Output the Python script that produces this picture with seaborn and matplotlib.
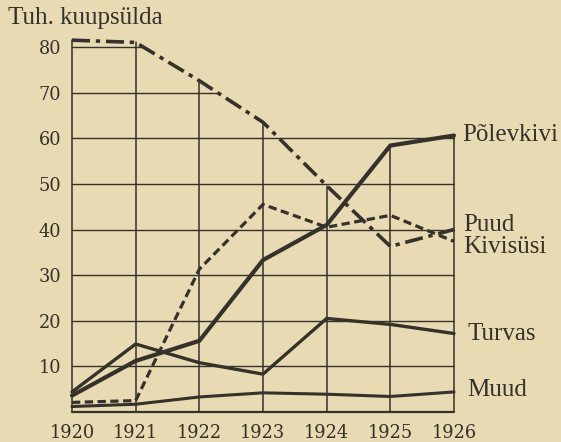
import numpy as np
import pandas as pd
import matplotlib
matplotlib.use("Agg")
import matplotlib.pyplot as plt
import seaborn as sns

# Fuel consumption, thousand cubic fathoms
years = [1920, 1921, 1922, 1923, 1924, 1925, 1926]
kivisusi = [81.5, 81.0, 72.6, 63.5, 49.6, 36.3, 40.0]
puud = [2.1, 2.5, 31.3, 45.5, 40.5, 43.1, 37.4]
polevkivi = [3.6, 11.2, 15.6, 33.3, 41.0, 58.4, 60.6]
turvas = [4.4, 14.9, 10.8, 8.3, 20.5, 19.2, 17.2]
muud = [1.2, 1.7, 3.3, 4.2, 3.9, 3.4, 4.4]
y_ticks = [10, 20, 30, 40, 50, 60, 70, 80]

series = {
    "Kivisüsi": kivisusi,
    "Puud": puud,
    "Põlevkivi": polevkivi,
    "Turvas": turvas,
    "Muud": muud,
}
styles = {
    "Kivisüsi": dict(lw=2.6, ls=(0, (5, 1.6, 1.2, 1.6))),
    "Puud": dict(lw=2.3, ls=(0, (2.6, 1.4))),
    "Põlevkivi": dict(lw=3.0, ls="-"),
    "Turvas": dict(lw=2.4, ls="-"),
    "Muud": dict(lw=2.2, ls="-"),
}

paper = "#e8dab3"
ink = "#35312b"

sns.set_theme(style="white")
plt.rcParams["font.family"] = ["DejaVu Serif"]

fig = plt.figure(figsize=(5.61, 4.42), dpi=100, facecolor=paper)
W, H = 561, 442
x0, x1 = 72, 454
y0, y80 = 412, 47
ax = fig.add_axes([x0 / W, 1 - y0 / H, (x1 - x0) / W, (y0 - y80) / H])
ax.set_facecolor(paper)
ax.set_xlim(1920, 1926)
ax.set_ylim(0, 80)

# Grid bounded by the upper envelope of all series
dense = np.linspace(1920, 1926, 2401)
env = np.max([np.interp(dense, years, v) for v in series.values()], axis=0)
tops = np.max(np.array(list(series.values())), axis=0)
for yr, top in zip(years, tops):
    ax.plot([yr, yr], [0, top], color=ink, lw=1.1, clip_on=False, zorder=1)
ax.plot([1920, 1926], [0, 0], color=ink, lw=1.6, clip_on=False, zorder=1)
for lev in y_ticks:
    reach = dense[env >= lev].max()
    ax.plot([1920, reach], [lev, lev], color=ink, lw=1.0, clip_on=False, zorder=1)

for name, vals in series.items():
    st = styles[name]
    sns.lineplot(x=years, y=vals, ax=ax, color=ink, lw=st["lw"],
                 linestyle=st["ls"], clip_on=False, zorder=3)

for s in ax.spines.values():
    s.set_visible(False)
ax.set_xticks(years)
ax.set_xticklabels([str(y) for y in years])
ax.set_yticks(y_ticks)
ax.set_yticklabels([str(t) for t in y_ticks])
ax.tick_params(axis="both", length=0, labelsize=12.8, colors=ink)
ax.tick_params(axis="x", pad=9)
ax.tick_params(axis="y", pad=8)
ax.set_xlabel("")
ax.set_ylabel("")

lab_font = dict(family=["Liberation Serif", "DejaVu Serif"], fontsize=18, color=ink)
fig.text(8 / W, 1 - 18 / H, "Tuh. kuupsülda", ha="left", va="center", **lab_font)
ends = [("Põlevkivi", 462, 135), ("Puud", 463, 225), ("Kivisüsi", 463, 247),
        ("Turvas", 467, 334), ("Muud", 467, 390)]
for txt, px, py in ends:
    fig.text(px / W, 1 - py / H, txt, ha="left", va="center", **lab_font)

fig.savefig("out.png", dpi=100, facecolor=paper)
